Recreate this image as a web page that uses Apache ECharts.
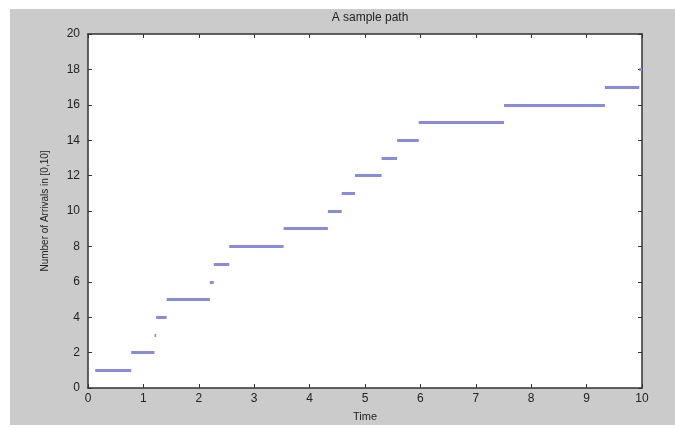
<!DOCTYPE html>
<html>
<head>
<meta charset="utf-8">
<script src="https://cdn.jsdelivr.net/npm/echarts@6/dist/echarts.min.js"></script>
<style>html,body{margin:0;padding:0;background:#fff}#c{width:675px;height:429px}</style>
</head>
<body>
<div id="c"></div>
<script>
// Arrival times (jump instants)
const arrivalTimes = [0.13, 0.78, 1.20, 1.23, 1.42, 2.20, 2.27, 2.55, 3.53, 4.33, 4.58, 4.82, 5.30, 5.58, 5.97, 7.51, 9.33, 9.95];
const counts = [1, 2, 3, 4, 5, 6, 7, 8, 9, 10, 11, 12, 13, 14, 15, 16, 17, 18];
const endTime = 10;
const xTicks = [0, 1, 2, 3, 4, 5, 6, 7, 8, 9, 10];
const yTicks = [0, 2, 4, 6, 8, 10, 12, 14, 16, 18, 20];

const segs = counts.map((k, i) => ({
  coords: [[arrivalTimes[i], k], [i + 1 < arrivalTimes.length ? arrivalTimes[i + 1] : endTime, k]]
}));

const chart = echarts.init(document.getElementById('c'));
const font = 'Liberation Sans, Arial, sans-serif';
const axisCommon = {
  axisLine: { show: true, onZero: false, lineStyle: { color: '#333', width: 1.5 } },
  axisTick: { show: true, inside: true, length: 4, lineStyle: { color: '#333' } },
  splitLine: { show: false }
};
chart.setOption({
  backgroundColor: '#ffffff',
  animation: false,
  graphic: [{
    type: 'rect', z: -10, silent: true,
    shape: { x: 10, y: 9, width: 665, height: 416 },
    style: { fill: '#cbcbcb' }
  }, {
    type: 'rect', z: -9, silent: true,
    shape: { x: 88, y: 34, width: 554, height: 354 },
    style: { fill: '#ffffff' }
  }],
  title: {
    text: 'A sample path', left: 365, top: 7, textAlign: 'center',
    textStyle: { fontFamily: font, fontSize: 12, fontWeight: 'normal', color: '#222' }
  },
  grid: { left: 88, right: 33, top: 34, bottom: 41, show: false },
  xAxis: [{
    type: 'value', min: 0, max: 10, interval: 1, position: 'bottom',
    name: 'Time', nameLocation: 'middle', nameGap: 23,
    nameTextStyle: { fontFamily: font, fontSize: 11, color: '#222' },
    axisLabel: { fontFamily: font, fontSize: 12, color: '#222', margin: 5,
      formatter: v => xTicks.includes(v) ? String(v) : '' },
    ...axisCommon
  }, {
    type: 'value', min: 0, max: 10, interval: 1, position: 'top',
    axisLabel: { show: false }, ...axisCommon
  }],
  yAxis: [{
    type: 'value', min: 0, max: 20, interval: 2, position: 'left',
    name: 'Number of Arrivals in [0,10]', nameLocation: 'middle', nameGap: 38,
    nameTextStyle: { fontFamily: font, fontSize: 10, color: '#222' },
    axisLabel: { fontFamily: font, fontSize: 12, color: '#222', margin: 8,
      formatter: v => yTicks.includes(v) ? String(v) : '' },
    ...axisCommon
  }, {
    type: 'value', min: 0, max: 20, interval: 2, position: 'right',
    axisLabel: { show: false }, ...axisCommon
  }],
  series: [{
    type: 'lines',
    coordinateSystem: 'cartesian2d',
    polyline: false,
    data: segs,
    lineStyle: { color: '#8a8ae0', width: 3, opacity: 1 },
    z: 5
  }]
});
</script>
</body>
</html>
